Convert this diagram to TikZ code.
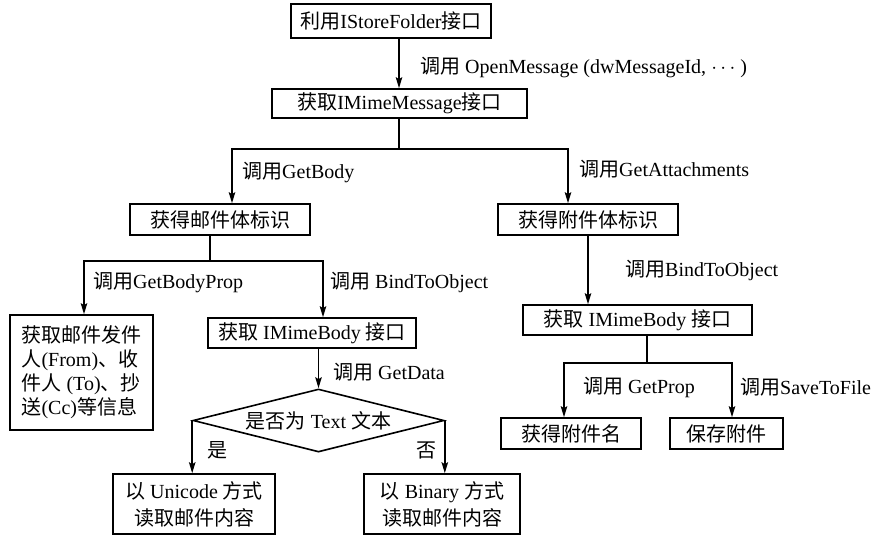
\documentclass[tikz,border=0pt]{standalone}
\usepackage{fontspec}
\setmainfont{Liberation Serif}
\newfontfamily\cjk{Noto Sans CJK SC}
\newcommand\zh[1]{{\cjk #1}}
\usetikzlibrary{arrows.meta,shapes.geometric}
\begin{document}
\begin{tikzpicture}[x=1pt,y=-1pt,
  box/.style={draw,line width=1.6pt,inner sep=0pt,font=\fontsize{20}{24}\selectfont},
  lbl/.style={anchor=west,inner sep=0pt,font=\fontsize{20}{24}\selectfont},
  ln/.style={line width=1.6pt},
  arr/.style={line width=1.6pt,-{Stealth[length=11pt,width=6.5pt,inset=2pt]}}]
\useasboundingbox (0,0) rectangle (875,536);

% nodes
\node[box,minimum width=200pt,minimum height=34pt] (n1) at (391,21) {\zh{利用}IStoreFolder\zh{接口}};
\node[box,minimum width=255pt,minimum height=29pt] (n2) at (399.5,103.5) {\zh{获取}IMimeMessage\zh{接口}};
\node[box,minimum width=180pt,minimum height=31pt] (n3) at (220,219.5) {\zh{获得邮件体标识}};
\node[box,minimum width=180pt,minimum height=31pt] (n4) at (588,219.5) {\zh{获得附件体标识}};
\node[box,minimum width=143pt,minimum height=115pt,align=left] (n5) at (81.5,372.5)
  {\zh{获取邮件发件}\\\zh{人}(From)\zh{、收}\\\zh{件人} (To)\zh{、抄}\\\zh{送}(Cc)\zh{等信息}};
\node[box,minimum width=208pt,minimum height=30pt] (n6) at (312,333) {\zh{获取} IMimeBody \zh{接口}};
\node[box,minimum width=229pt,minimum height=30pt] (n7) at (637.5,320) {\zh{获取} IMimeBody \zh{接口}};
\node[box,shape=diamond,aspect=4,minimum width=251pt,minimum height=63pt] (dia) at (318.5,420.5) {\zh{是否为} Text \zh{文本}};
\node[box,minimum width=140pt,minimum height=31pt] (n9) at (571,433.5) {\zh{获得附件名}};
\node[box,minimum width=113pt,minimum height=31pt] (n10) at (726.5,433.5) {\zh{保存附件}};
\node[box,minimum width=162pt,minimum height=60pt,align=center,font=\fontsize{20}{27}\selectfont] (n11) at (194,504)
  {\zh{以} Unicode \zh{方式}\\\zh{读取邮件内容}};
\node[box,minimum width=156pt,minimum height=60pt,align=center,font=\fontsize{20}{27}\selectfont] (n12) at (442,504)
  {\zh{以} Binary \zh{方式}\\\zh{读取邮件内容}};

% helper coordinates
\coordinate (x1) at (399,0);
\coordinate (j1) at (399,149);
\coordinate (a1) at (232,0);
\coordinate (a2) at (568,0);
\coordinate (j2) at (210,261);
\coordinate (b1) at (84,0);
\coordinate (b2) at (323,0);
\coordinate (c3) at (588,0);
\coordinate (j3) at (647,363);
\coordinate (d1) at (564,0);
\coordinate (d2) at (732,0);

% connectors
\draw[arr] (x1 |- n1.south) -- (x1 |- n2.north);
\draw[arr] (j1 |- n2.south) -- (j1) -| (a1 |- n3.north);
\draw[arr] (j1) -| (a2 |- n4.north);
\draw[arr] (j2 |- n3.south) -- (j2) -| (b1 |- n5.north);
\draw[arr] (j2) -| (b2 |- n6.north);
\draw[arr] (c3 |- n4.south) -- (c3 |- n7.north);
\draw[arr] (j3 |- n7.south) -- (j3) -| (d1 |- n9.north);
\draw[arr] (j3) -| (d2 |- n10.north);
\draw[arr] (n6.south -| dia.north) -- (dia.north);
\draw[arr] (dia.west) -- (dia.west |- n11.north);
\draw[arr] (dia.east) -- (dia.east |- n12.north);

% labels
\node[lbl] (l1) at (420,67) {\zh{调用} OpenMessage (dwMessageId, $\cdots$ )};
\node[lbl] (l2) at (242,172) {\zh{调用}GetBody};
\node[lbl] (l3) at (579,169) {\zh{调用}GetAttachments};
\node[lbl] (l4) at (93,282) {\zh{调用}GetBodyProp};
\node[lbl] (l5) at (330,282) {\zh{调用} BindToObject};
\node[lbl] (l6) at (625,270) {\zh{调用}BindToObject};
\node[lbl] (l7) at (333,372) {\zh{调用} GetData};
\node[lbl] (l8) at (207,450) {\zh{是}};
\node[lbl] (l9) at (416,450) {\zh{否}};
\node[lbl] (l10) at (583,387) {\zh{调用} GetProp};
\node[lbl] (l11) at (740,387) {\zh{调用}SaveToFile};
\end{tikzpicture}
\end{document}
